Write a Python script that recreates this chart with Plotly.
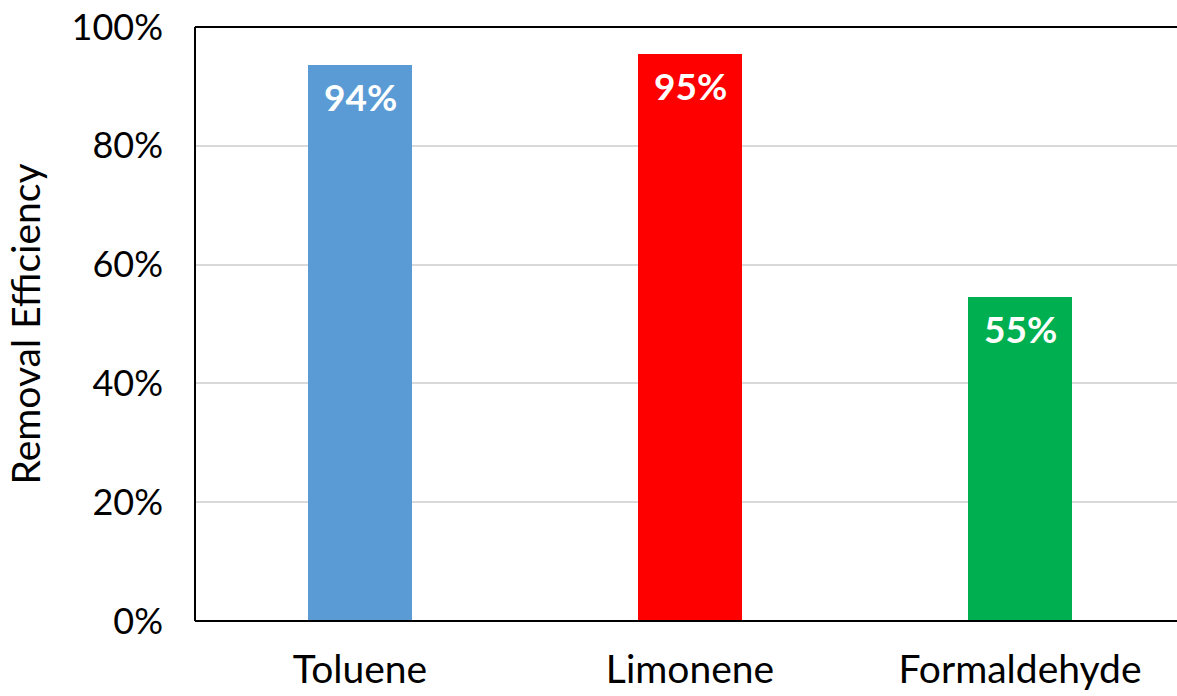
import plotly.graph_objects as go

# Removal efficiency per compound
compounds = ["Toluene", "Limonene", "Formaldehyde"]
efficiency = [0.936, 0.954, 0.546]
bar_colors = ["#5B9BD5", "#FF0000", "#00B050"]
y_ticks = [0, 0.2, 0.4, 0.6, 0.8, 1.0]

FONT = "Lato"

fig = go.Figure()
fig.add_trace(go.Bar(
    x=compounds,
    y=efficiency,
    marker=dict(color=bar_colors, line=dict(width=0)),
    width=0.315,
    showlegend=False,
    hoverinfo="skip",
))

# value labels inside the top of each bar
for name, val in zip(compounds, efficiency):
    fig.add_annotation(
        x=name, y=val, xref="x", yref="y",
        text=f"<b>{val:.0%}</b>",
        showarrow=False, yanchor="top", yshift=-7,
        font=dict(family=FONT, size=37, color="white"),
    )

# frame: left, bottom and top edges of the plot area
frame = dict(color="black", width=2)
fig.add_shape(type="line", xref="paper", yref="paper", x0=0, x1=0, y0=0, y1=1, line=frame)
fig.add_shape(type="line", xref="paper", yref="paper", x0=0, x1=1, y0=0, y1=0, line=frame)
fig.add_shape(type="line", xref="paper", yref="paper", x0=0, x1=1, y0=1, y1=1, line=frame)

# the figure runs a little past the window's right edge, so the plot's right side is cropped
fig.update_layout(
    template="none",
    width=1185, height=696,
    margin=dict(l=195, r=0, t=27, b=75),
    paper_bgcolor="white", plot_bgcolor="white",
    font=dict(family=FONT, color="black"),
    bargap=0,
)

fig.update_xaxes(
    range=[-0.5, 2.5],
    automargin=False,
    showline=False, mirror=False,
    showgrid=False, zeroline=False, ticks="",
    tickfont=dict(family=FONT, size=39),
    ticklabelstandoff=22,
)

fig.update_yaxes(
    range=[0, 1],
    automargin=False,
    tickvals=y_ticks, tickformat=".0%",
    showline=False, mirror=False,
    showgrid=True, gridcolor="#D9D9D9", gridwidth=1.5,
    zeroline=False, ticks="",
    tickfont=dict(family=FONT, size=36),
    ticklabelstandoff=31,
    title=dict(text="Removal Efficiency", font=dict(family=FONT, size=39), standoff=18),
)

fig.write_html(
    "out.html",
    post_script=(
        "document.documentElement.style.overflow='hidden';"
        "document.body.style.overflow='hidden';"
        "document.body.style.margin='0';"
    ),
)
